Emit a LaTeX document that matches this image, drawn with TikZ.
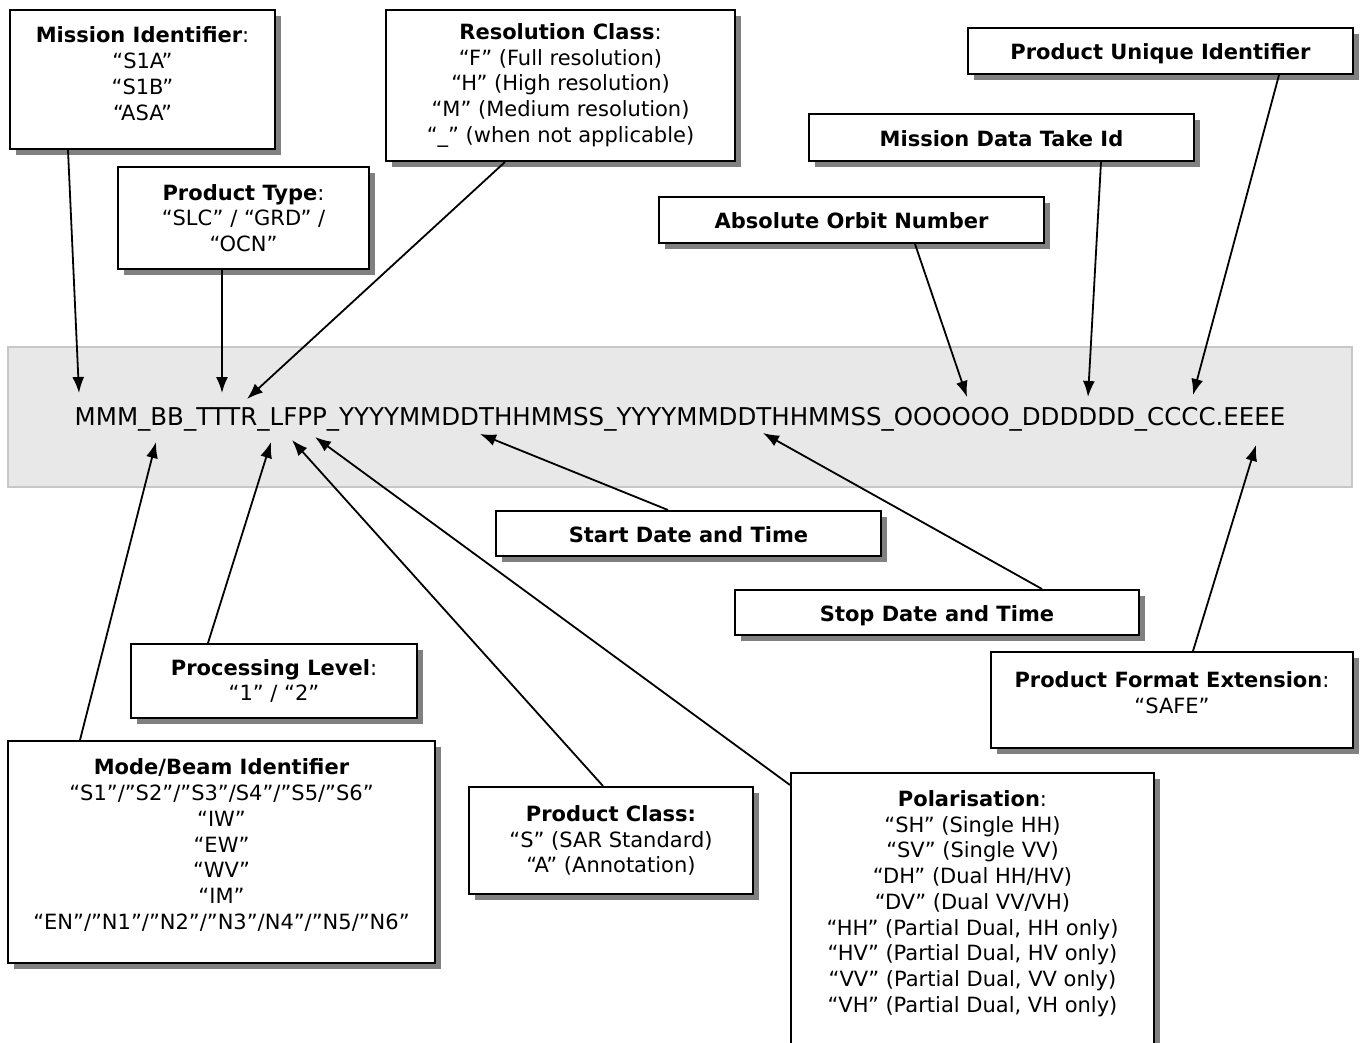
\documentclass[tikz,border=0pt]{standalone}
\usepackage{fontspec}
\setmainfont{DejaVu Sans}
\usetikzlibrary{positioning,shadows,arrows.meta}

\begin{document}
\begin{tikzpicture}[x=1pt,y=-1pt,
  box/.style={draw,line width=2pt,fill=white,align=center,anchor=north west,inner sep=4pt,
    font=\fontsize{21}{25.7}\selectfont,
    drop shadow={shadow xshift=6pt,shadow yshift=-6pt,fill=black!50,opacity=1}},
  one/.style={text height=18pt,text depth=0pt},
  band/.style={draw=black!22,line width=2pt,fill=black!9,minimum width=1344pt,minimum height=140pt,
    inner sep=0pt,font=\fontsize{24.5}{29}\selectfont,text height=17.9pt,text depth=0pt},
  arr/.style={->,>={Latex[length=16pt,width=12pt]},line width=1.8pt}]

\useasboundingbox (0,0) rectangle (1360,1043);
\clip (0,0) rectangle (1360,1043);

% product name
\node[band] (fn) at (680,417) {MMM\_BB\_TTTR\_LFPP\_YYYYMMDDTHHMMSS\_YYYYMMDDTHHMMSS\_OOOOOO\_DDDDDD\_CCCC.EEEE};

% fields above
\node[box,minimum width=265pt,inner ysep=17pt] (mis) at (9,9) {\textbf{Mission Identifier}:\\“S1A”\\“S1B”\\“ASA”\rule[-12pt]{0pt}{12pt}};
\node[box,minimum width=251pt,minimum height=102pt] (ptype) at (117,166) {\textbf{Product Type}:\\“SLC” / “GRD” /\\“OCN”};
\node[box,minimum width=349pt,minimum height=151pt] (res) at (385,9) {\textbf{Resolution Class}:\\“F” (Full resolution)\\“H” (High resolution)\\“M” (Medium resolution)\\“\_” (when not applicable)};
\node[box,one,minimum width=385pt,minimum height=46pt] (puid) at (967,27) {\textbf{Product Unique Identifier}};
\node[box,one,minimum width=385pt,minimum height=47pt] (mdt) at (808,113) {\textbf{Mission Data Take Id}};
\node[box,one,minimum width=385pt,minimum height=46pt] (orb) at (658,196) {\textbf{Absolute Orbit Number}};

% fields below
\node[box,one,minimum width=385pt,minimum height=45pt] (start) at (495,510) {\textbf{Start Date and Time}};
\node[box,one,minimum width=404pt,minimum height=45pt] (stop) at (734,589) {\textbf{Stop Date and Time}};
\node[box,minimum width=286pt,minimum height=74pt] (proc) at (130,643) {\textbf{Processing Level}:\\“1” / “2”};
\node[box,minimum width=362pt,inner ysep=20pt] (ext) at (990,651) {\textbf{Product Format Extension}:\\“SAFE”\rule[-14pt]{0pt}{14pt}};
\node[box,minimum width=427pt,inner ysep=18pt] (mode) at (7,740) {\textbf{Mode/Beam Identifier}\\“S1”/”S2”/”S3”/S4”/”S5/”S6”\\“IW”\\“EW”\\“WV”\\“IM”\\“EN”/”N1”/”N2”/”N3”/N4”/”N5/”N6”\rule[-16pt]{0pt}{16pt}};
\node[box,minimum width=284pt,minimum height=107pt] (pclass) at (468,786) {\textbf{Product Class:}\\“S” (SAR Standard)\\“A” (Annotation)};
\node[box,minimum width=363pt,inner ysep=17.6pt] (pol) at (790,772) {\textbf{Polarisation}:\\“SH” (Single HH)\\“SV” (Single VV)\\“DH” (Dual HH/HV)\\“DV” (Dual VV/VH)\\“HH” (Partial Dual, HH only)\\“HV” (Partial Dual, HV only)\\“VV” (Partial Dual, VV only)\\“VH” (Partial Dual, VH only)\rule[-45pt]{0pt}{45pt}};

% arrow tips on the name
\coordinate (t1) at (79,393);
\coordinate (t2) at (222,393);
\coordinate (t3) at (247,399);
\coordinate (t4) at (967,397);
\coordinate (t5) at (1088,397);
\coordinate (t6) at (1193,395);
\coordinate (b1) at (156,442);
\coordinate (b2) at (271,442);
\coordinate (b3) at (292,440);
\coordinate (b4) at (315,437);
\coordinate (b5) at (480,434);
\coordinate (b6) at (763,433);
\coordinate (b7) at (1256,445);

\foreach \n/\d/\t in {mis/59/t1,ptype/105/t2,res/120/t3,orb/257/t4,mdt/293/t5,puid/312/t6}{
	\draw[arr] ([xshift=\d pt]\n.south west) -- (\t);
}
\foreach \n/\d/\t in {mode/73/b1,proc/78/b2,pclass/135/b3,start/173/b5,stop/308/b6,ext/203/b7}{
	\draw[arr] ([xshift=\d pt]\n.north west) -- (\t);
}
\draw[arr] ([yshift=-13pt]pol.north west) -- (b4);
\end{tikzpicture}
\end{document}
